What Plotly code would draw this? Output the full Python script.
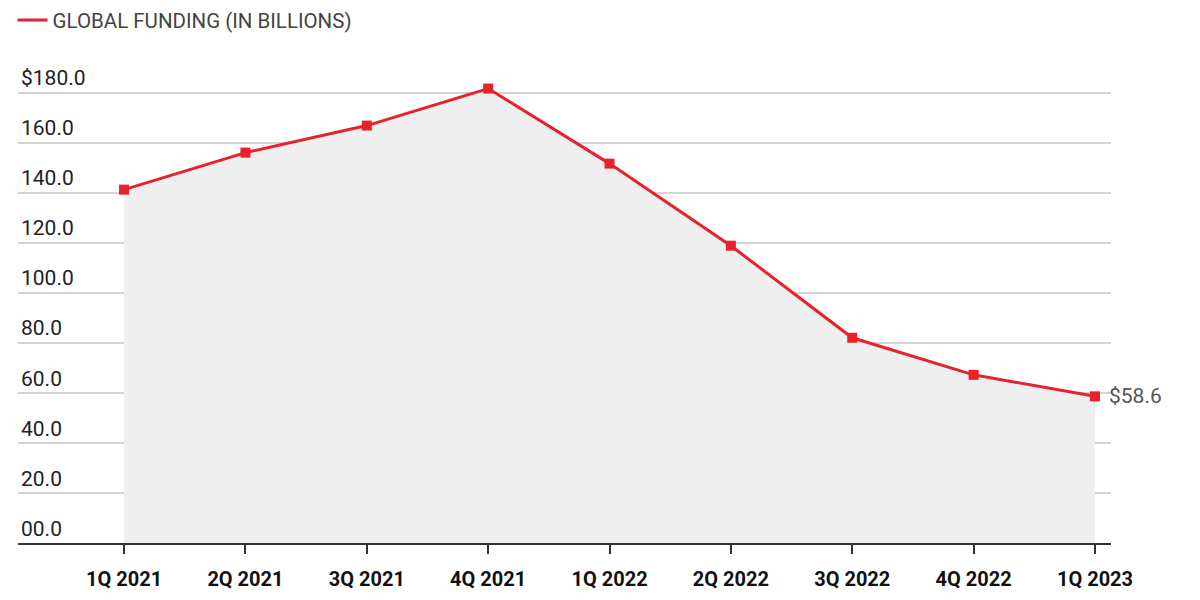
import plotly.graph_objects as go

quarters = ["1Q 2021", "2Q 2021", "3Q 2021", "4Q 2021", "1Q 2022",
            "2Q 2022", "3Q 2022", "4Q 2022", "1Q 2023"]
funding = [141.2, 156.0, 166.8, 181.6, 151.6, 118.8, 82.0, 67.2, 58.6]
y_ticks = [0, 20, 40, 60, 80, 100, 120, 140, 160, 180]
y_tick_text = ["00.0", "20.0", "40.0", "60.0", "80.0", "100.0",
               "120.0", "140.0", "160.0", "$180.0"]
end_label = "$58.6"

RED = "#e8212b"
xs = list(range(len(quarters)))

fig = go.Figure()

# grey area under the line
fig.add_trace(go.Scatter(
    x=xs, y=funding, mode="lines", fill="tozeroy",
    fillcolor="#efefef", line=dict(width=0),
    hoverinfo="skip", showlegend=False
))

# main line with square markers
fig.add_trace(go.Scatter(
    x=xs, y=funding, mode="lines+markers",
    line=dict(color=RED, width=3),
    marker=dict(symbol="square", size=10, color=RED),
    cliponaxis=False, showlegend=False
))

# legend entry (line only)
fig.add_trace(go.Scatter(
    x=[None], y=[None], mode="lines",
    line=dict(color=RED, width=3),
    name="GLOBAL FUNDING (IN BILLIONS)"
))

# value label next to the last point
fig.add_annotation(
    x=xs[-1], y=funding[-1], text=end_label, showarrow=False,
    xanchor="left", xshift=12,
    font=dict(family="Roboto", size=21, color="#555555")
)

fig.update_layout(
    width=1200, height=600,
    margin=dict(l=10, r=97, t=42, b=65, autoexpand=False),
    plot_bgcolor="white", paper_bgcolor="white",
    font=dict(family="Roboto", color="#222222"),
    legend=dict(
        x=-0.005, y=1.101, xanchor="left", yanchor="top",
        font=dict(family="Roboto", size=20.5, color="#444444"),
        itemwidth=30, bgcolor="rgba(0,0,0,0)"
    ),
    xaxis=dict(
        range=[-0.874, 8.132],
        tickvals=xs, ticktext=quarters,
        showgrid=False, zeroline=False,
        showline=True, linecolor="#333333", linewidth=2,
        ticks="outside", ticklen=9, tickwidth=2, tickcolor="#333333",
        ticklabelstandoff=8,
        tickfont=dict(family="Roboto", size=20, color="#111111", weight="bold"),
    ),
    yaxis=dict(
        range=[0, 197],
        tickvals=y_ticks, ticktext=y_tick_text,
        ticklabelposition="inside top",
        showgrid=True, gridcolor="#d4d4d4", gridwidth=1.5,
        zeroline=False, showline=False, ticks="",
        tickfont=dict(family="Roboto", size=21, color="#222222"),
    ),
)

fig.write_html("out.html")
